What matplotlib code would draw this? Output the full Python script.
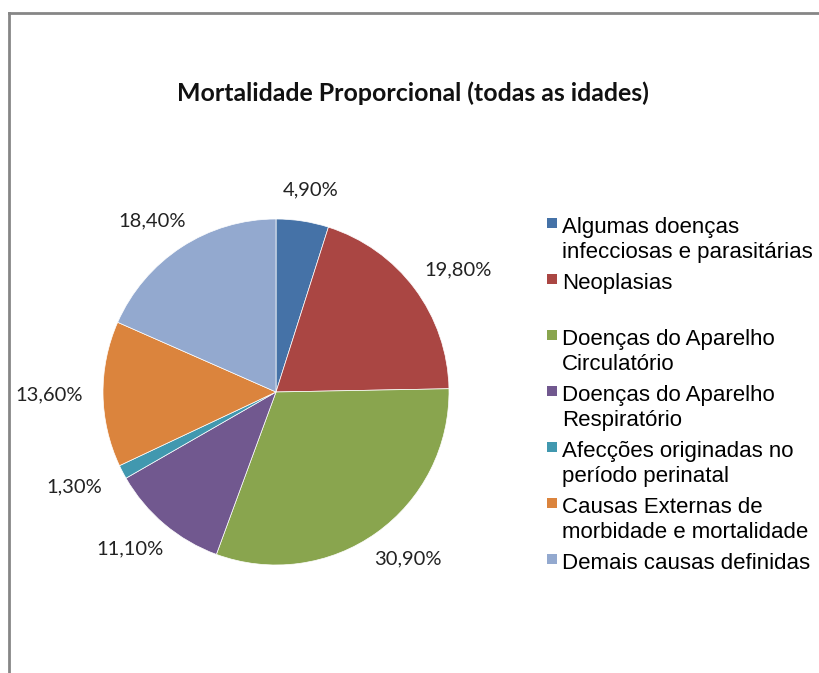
import numpy as np
import matplotlib.pyplot as plt
from matplotlib.lines import Line2D
from matplotlib.patches import Rectangle

causes = [
    "Algumas doenças\ninfecciosas e parasitárias",
    "Neoplasias",
    "Doenças do Aparelho\nCirculatório",
    "Doenças do Aparelho\nRespiratório",
    "Afecções originadas no\nperíodo perinatal",
    "Causas Externas de\nmorbidade e mortalidade",
    "Demais causas definidas",
]
shares = [4.9, 19.8, 30.9, 11.1, 1.3, 13.6, 18.4]
pct_labels = ["4,90%", "19,80%", "30,90%", "11,10%", "1,30%", "13,60%", "18,40%"]
colors = ["#4572A7", "#AA4643", "#89A54E", "#71588F", "#4198AF", "#DB843D", "#93A9CF"]

W, H = 820, 673
fig = plt.figure(figsize=(W / 100, H / 100), dpi=100)

# frame of the chart area (cropped screenshot: top and left only)
fig.add_artist(Line2D([9 / W, 1], [1 - 13 / H] * 2, color="#868686", lw=2))
fig.add_artist(Line2D([9 / W] * 2, [0, 1 - 13 / H], color="#868686", lw=2))

fig.text(413 / W, 1 - 93 / H, "Mortalidade Proporcional (todas as idades)",
         ha="center", va="center", fontsize=17.9, fontweight="bold",
         family=["Lato", "DejaVu Sans"], color="#111111")

cx, cy, r = 276, 392, 173
ax = fig.add_axes([(cx - r) / W, (H - cy - r) / H, 2 * r / W, 2 * r / H])
wedges, _ = ax.pie(shares, colors=colors, startangle=90, counterclock=False,
                   radius=1, wedgeprops=dict(edgecolor="white", linewidth=0.5))
ax.set_xlim(-1, 1)
ax.set_ylim(-1, 1)
ax.set_aspect("equal")
ax.axis("off")

# percentage labels outside the slices, pushed away from the edge
for w, txt in zip(wedges, pct_labels):
    ang = np.deg2rad((w.theta1 + w.theta2) / 2)
    c, s = np.cos(ang), np.sin(ang)
    ax.annotate(txt, xy=(1.12 * c, 1.12 * s), xytext=(24 * c, 8 * s),
                textcoords="offset points", ha="center", va="center",
                annotation_clip=False, fontsize=14.5,
                family=["Lato", "DejaVu Sans"], color="#222222")

# legend, drawn line by line
y0, pitch, line_h = 233, 56, 25
for i, (lab, col) in enumerate(zip(causes, colors)):
    y = y0 + i * pitch
    fig.add_artist(Rectangle((547 / W, 1 - (y - 5) / H), 10 / W, 10 / H,
                             facecolor=col, edgecolor="none"))
    for j, line in enumerate(lab.split("\n")):
        fig.text(562 / W, 1 - (y + j * line_h) / H, line, ha="left",
                 va="baseline", fontsize=16,
                 family=["Liberation Sans", "DejaVu Sans"], color="black")

fig.savefig("out.png", dpi=100)
